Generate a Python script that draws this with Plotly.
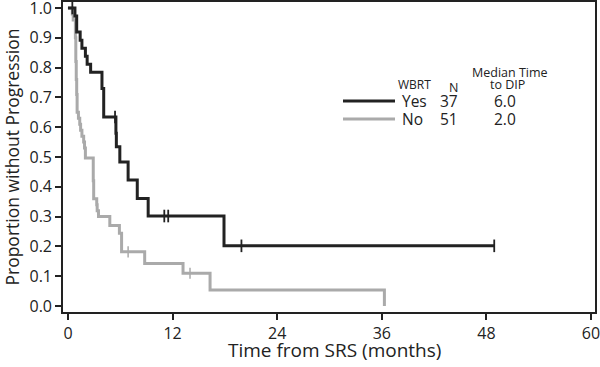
import plotly.graph_objects as go

# Kaplan-Meier step data (time in months, survival proportion)
yes_t = [0, 0.8, 1.0, 1.4, 1.6, 2.0, 2.2, 2.6, 3.9, 4.1, 5.5, 5.55, 5.95, 6.9, 7.95, 9.2, 17.9, 48.9]
yes_s = [1.0, 0.973, 0.919, 0.892, 0.865, 0.838, 0.811, 0.784, 0.73, 0.634, 0.58, 0.534, 0.483, 0.423, 0.361, 0.302, 0.202, 0.202]
yes_cens_t = [0.5, 5.4, 11.05, 11.5, 19.9, 48.9]
yes_cens_s = [1.0, 0.634, 0.302, 0.302, 0.202, 0.202]

no_t = [0, 0.5, 0.6, 0.85, 0.9, 0.95, 1.0, 1.05, 1.2, 1.35, 1.45, 1.6, 1.8, 1.9, 2.0, 2.9, 2.95, 3.3, 3.35, 3.5, 4.8, 5.9, 6.15, 8.8, 13.2, 16.3, 36.3]
no_s = [1.0, 0.98, 0.96, 0.90, 0.82, 0.76, 0.71, 0.65, 0.63, 0.61, 0.59, 0.57, 0.55, 0.53, 0.497, 0.42, 0.36, 0.34, 0.32, 0.30, 0.27, 0.244, 0.182, 0.143, 0.11, 0.054, 0.0]
no_cens_t = [6.9, 14.0]
no_cens_s = [0.182, 0.11]

x_ticks = [0, 12, 24, 36, 48, 60]
y_ticks = [0.0, 0.1, 0.2, 0.3, 0.4, 0.5, 0.6, 0.7, 0.8, 0.9, 1.0]

legend_groups = ["Yes", "No"]
legend_n = ["37", "51"]
legend_median = ["6.0", "2.0"]

BLACK = "#222222"
GRAY = "#aaaaaa"
FONT = "Open Sans"

fig = go.Figure()
fig.add_trace(go.Scatter(x=no_t, y=no_s, mode="lines", line=dict(color=GRAY, width=3, shape="hv"), showlegend=False))
fig.add_trace(go.Scatter(x=no_cens_t, y=no_cens_s, mode="markers",
                         marker=dict(symbol="line-ns", size=8, line=dict(color=GRAY, width=1.5)), showlegend=False))
fig.add_trace(go.Scatter(x=yes_t, y=yes_s, mode="lines", line=dict(color=BLACK, width=3, shape="hv"), showlegend=False))
fig.add_trace(go.Scatter(x=yes_cens_t, y=yes_cens_s, mode="markers",
                         marker=dict(symbol="line-ns", size=9, line=dict(color=BLACK, width=1.8)), showlegend=False))

axis_common = dict(showline=True, linecolor="#222", linewidth=1.6, mirror=True, ticks="outside",
                   ticklen=6, tickwidth=1.5, tickcolor="#222", showgrid=False, zeroline=False,
                   ticklabeloverflow="allow",
                   tickfont=dict(family=FONT, size=16, color="#222"))

fig.update_xaxes(range=[-0.57, 60.46], tickvals=x_ticks, ticktext=[str(v) for v in x_ticks], **axis_common)
fig.update_yaxes(range=[-0.02, 1.02], tickvals=y_ticks, ticktext=[f"{v:.1f}" for v in y_ticks],
                 title=dict(text="Proportion without Progression", font=dict(family=FONT, size=17.5, color="#222"), standoff=5),
                 **axis_common)

def px(xp):
    return (xp - 63) / 532.0

def py(yp):
    return (312 - yp) / 310.0

ann = []
def txt(text, x, y, size, xanchor="center"):
    ann.append(dict(text=text, x=px(x), y=py(y), xref="paper", yref="paper", showarrow=False,
                    xanchor=xanchor, yanchor="middle", borderpad=0,
                    font=dict(family=FONT, size=size, color="#222")))

txt("Time from SRS (months)", 334, 350, 19)
txt("WBRT", 414, 85, 12)
txt("N", 453, 87, 12.5)
txt("Median Time", 510, 72, 12.5)
txt("to DIP", 507, 84, 12.5)
rows_y = [101, 119]
for g, n, m, yy in zip(legend_groups, legend_n, legend_median, rows_y):
    txt(g, 401, yy, 15.5, xanchor="left")
    txt(n, 449, yy, 15.5)
    txt(m, 505, yy, 15.5)

shapes = []
for col, yy in zip([BLACK, GRAY], rows_y):
    shapes.append(dict(type="line", xref="paper", yref="paper", x0=px(343), x1=px(395), y0=py(yy), y1=py(yy),
                       line=dict(color=col, width=3)))

fig.update_layout(width=600, height=367, margin=dict(l=63, r=5, t=2, b=55, autoexpand=False),
                  plot_bgcolor="white", paper_bgcolor="white", annotations=ann, shapes=shapes,
                  font=dict(family=FONT))

fig.write_html("out.html", config={"displayModeBar": False},
               post_script="document.body.style.margin='0';")
